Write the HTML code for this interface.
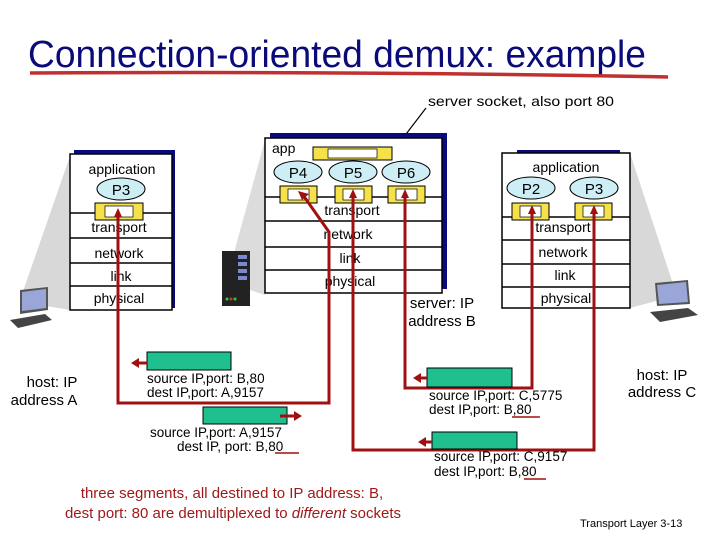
<!DOCTYPE html>
<html><head><meta charset="utf-8"><style>
html,body{margin:0;padding:0;background:#fff;}
svg{display:block;}
text{font-family:"Liberation Sans Narrow","Liberation Sans",sans-serif;}
</style></head><body>
<svg width="720" height="540" viewBox="0 0 720 540" xmlns="http://www.w3.org/2000/svg">
<!-- title -->
<text x="28" y="67" font-size="38" fill="#0a0a78" style="font-family:'Liberation Sans',sans-serif" textLength="618" lengthAdjust="spacingAndGlyphs">Connection-oriented demux: example</text>
<path d="M30 73 Q350 71 668 77" stroke="#c03030" stroke-width="3.5" fill="none"/>
<text x="428" y="106" font-size="14" fill="#000" textLength="186" lengthAdjust="spacingAndGlyphs">server socket, also port 80</text>
<line x1="426" y1="108" x2="390" y2="155" stroke="#000" stroke-width="1.2"/>

<!-- shading -->
<polygon points="70,156 70,310 40,305 20,300" fill="#d8d8d8"/>
<polygon points="265,140 265,295 250,290 232,260" fill="#dcdcdc"/>
<polygon points="630,153 630,308 660,300 675,290" fill="#d8d8d8"/>

<!-- Host A stack -->
<rect x="74" y="150" width="101" height="158" fill="#0a0a80"/>
<rect x="70" y="154" width="102" height="156" fill="#fff" stroke="#000" stroke-width="1.5"/>
<line x1="70" y1="213" x2="172" y2="213" stroke="#000" stroke-width="1.5"/>
<line x1="70" y1="238" x2="172" y2="238" stroke="#000" stroke-width="1.5"/>
<line x1="70" y1="263" x2="172" y2="263" stroke="#000" stroke-width="1.5"/>
<line x1="70" y1="286" x2="172" y2="286" stroke="#000" stroke-width="1.5"/>
<text x="122" y="174" font-size="14" text-anchor="middle">application</text>
<ellipse cx="121" cy="189" rx="24" ry="11" fill="#cdeef5" stroke="#000"/>
<text x="121" y="195" font-size="15" text-anchor="middle">P3</text>
<text x="119" y="232" font-size="14" text-anchor="middle">transport</text>
<text x="119" y="258" font-size="14" text-anchor="middle">network</text>
<text x="121" y="281" font-size="14" text-anchor="middle">link</text>
<text x="119" y="303" font-size="14" text-anchor="middle">physical</text>

<!-- Server stack -->
<rect x="270" y="133" width="177" height="156" fill="#0a0a80"/>
<rect x="265" y="138" width="177" height="155" fill="#fff" stroke="#000" stroke-width="1.5"/>
<line x1="265" y1="197" x2="442" y2="197" stroke="#000" stroke-width="1.5"/>
<line x1="265" y1="221" x2="442" y2="221" stroke="#000" stroke-width="1.5"/>
<line x1="265" y1="247" x2="442" y2="247" stroke="#000" stroke-width="1.5"/>
<line x1="265" y1="270" x2="442" y2="270" stroke="#000" stroke-width="1.5"/>
<text x="272" y="153" font-size="14">app</text>
<ellipse cx="298" cy="172" rx="24" ry="11" fill="#cdeef5" stroke="#000"/>
<text x="298" y="178" font-size="15" text-anchor="middle">P4</text>
<ellipse cx="353" cy="172" rx="24" ry="11" fill="#cdeef5" stroke="#000"/>
<text x="353" y="178" font-size="15" text-anchor="middle">P5</text>
<ellipse cx="406" cy="172" rx="24" ry="11" fill="#cdeef5" stroke="#000"/>
<text x="406" y="178" font-size="15" text-anchor="middle">P6</text>
<text x="352" y="215" font-size="14" text-anchor="middle">transport</text>
<text x="348" y="239" font-size="14" text-anchor="middle">network</text>
<text x="350" y="263" font-size="14" text-anchor="middle">link</text>
<text x="350" y="286" font-size="14" text-anchor="middle">physical</text>

<!-- server icon -->
<rect x="222" y="251" width="28" height="55" fill="#222"/>
<rect x="238" y="255" width="9" height="4" fill="#7a8ad0"/>
<rect x="238" y="262" width="9" height="4" fill="#7a8ad0"/>
<rect x="238" y="269" width="9" height="4" fill="#7a8ad0"/>
<rect x="238" y="276" width="9" height="4" fill="#7a8ad0"/>
<circle cx="227" cy="299" r="1.5" fill="#3c3"/><circle cx="231" cy="299" r="1.5" fill="#c33"/><circle cx="235" cy="299" r="1.5" fill="#3c3"/>

<!-- Host C stack -->
<rect x="517" y="150" width="103" height="5" fill="#0a0a80"/>
<rect x="502" y="153" width="128" height="155" fill="#fff" stroke="#000" stroke-width="1.5"/>
<line x1="502" y1="217" x2="630" y2="217" stroke="#000" stroke-width="1.5"/>
<line x1="502" y1="240" x2="630" y2="240" stroke="#000" stroke-width="1.5"/>
<line x1="502" y1="264" x2="630" y2="264" stroke="#000" stroke-width="1.5"/>
<line x1="502" y1="287" x2="630" y2="287" stroke="#000" stroke-width="1.5"/>
<text x="566" y="172" font-size="14" text-anchor="middle">application</text>
<ellipse cx="531" cy="188" rx="24" ry="11" fill="#cdeef5" stroke="#000"/>
<text x="531" y="194" font-size="15" text-anchor="middle">P2</text>
<ellipse cx="594" cy="188" rx="24" ry="11" fill="#cdeef5" stroke="#000"/>
<text x="594" y="194" font-size="15" text-anchor="middle">P3</text>
<text x="563" y="232" font-size="14" text-anchor="middle">transport</text>
<text x="563" y="257" font-size="14" text-anchor="middle">network</text>
<text x="565" y="280" font-size="14" text-anchor="middle">link</text>
<text x="566" y="303" font-size="14" text-anchor="middle">physical</text>

<!-- sockets -->
<g fill="#f5e14a" stroke="#000" stroke-width="1">
<rect x="95" y="203" width="48" height="17"/>
<rect x="313" y="147" width="79" height="13"/>
<rect x="280" y="186" width="37" height="17"/>
<rect x="335" y="186" width="37" height="17"/>
<rect x="388" y="186" width="37" height="17"/>
<rect x="512" y="203" width="37" height="17"/>
<rect x="575" y="203" width="37" height="17"/>
</g>
<g fill="#fff" stroke="#000" stroke-width="0.7">
<rect x="105" y="206" width="28" height="11"/>
<rect x="328" y="149" width="49" height="9"/>
<rect x="288" y="189" width="21" height="11"/>
<rect x="343" y="189" width="21" height="11"/>
<rect x="396" y="189" width="21" height="11"/>
<rect x="520" y="206" width="21" height="11"/>
<rect x="583" y="206" width="21" height="11"/>
</g>

<!-- red connectors -->
<g stroke="#a01010" stroke-width="3" fill="none">
<polyline points="118,214 118,403 329,403 329,232 303,195"/>
<polyline points="353,195 353,450 594,450 594,211"/>
<polyline points="405,195 405,388 532,388 532,211"/>
</g>
<g fill="#a01010">
<polygon points="298,191 309,194 302,200"/>
<polygon points="118,208 114,217 122,217"/>
<polygon points="353,189 349,198 357,198"/>
<polygon points="405,189 401,198 409,198"/>
<polygon points="532,205 528,214 536,214"/>
<polygon points="594,205 590,214 598,214"/>
</g>

<!-- laptops -->
<g>
<polygon points="20,290 48,287 48,310 20,314" fill="#555"/>
<polygon points="22,292 46,289 46,308 22,311" fill="#9aa6d8"/>
<polygon points="10,320 45,314 52,320 18,328" fill="#444"/>
<polygon points="655,283 688,280 690,304 657,306" fill="#555"/>
<polygon points="657,285 686,282 688,302 659,304" fill="#9aa6d8"/>
<polygon points="650,312 688,308 698,315 660,322" fill="#444"/>
</g>

<!-- segments -->
<g fill="#1fbf8f" stroke="#000" stroke-width="1">
<rect x="147" y="352" width="84" height="18"/>
<rect x="203" y="407" width="84" height="17"/>
<rect x="427" y="368" width="85" height="19"/>
<rect x="432" y="432" width="85" height="17"/>
</g>
<g stroke="#a01010" stroke-width="3">
<line x1="147" y1="363" x2="137" y2="363"/>
<line x1="280" y1="416" x2="294" y2="416"/>
<line x1="427" y1="378" x2="419" y2="378"/>
<line x1="432" y1="442" x2="424" y2="442"/>
</g>
<g fill="#a01010">
<polygon points="131,363 139,358 139,368"/>
<polygon points="302,416 294,411 294,421"/>
<polygon points="413,378 421,373 421,383"/>
<polygon points="418,442 426,437 426,447"/>
</g>
<g font-size="13.5" fill="#000">
<text x="147" y="383">source IP,port: B,80</text>
<text x="147" y="397">dest IP,port: A,9157</text>
<text x="150" y="437">source IP,port: A,9157</text>
<text x="177" y="451">dest IP, port: B,80</text>
<text x="429" y="400">source IP,port: C,5775</text>
<text x="429" y="414">dest IP,port: B,80</text>
<text x="434" y="461">source IP,port: C,9157</text>
<text x="434" y="476">dest IP,port: B,80</text>
</g>
<g stroke="#a01010" stroke-width="1.5">
<line x1="275" y1="453" x2="299" y2="453"/>
<line x1="512" y1="417" x2="540" y2="417"/>
<line x1="524" y1="479" x2="546" y2="479"/>
</g>

<!-- host labels -->
<g font-size="15" fill="#000" style="font-family:'Liberation Sans',sans-serif" text-anchor="middle">
<text x="52" y="387">host: IP</text>
<text x="44" y="405">address A</text>
<text x="662" y="380">host: IP</text>
<text x="662" y="397">address C</text>
<text x="442" y="308">server: IP</text>
<text x="442" y="326">address B</text>
</g>

<text x="232" y="498" font-size="15" fill="#a01818" text-anchor="middle">three segments, all destined to IP address: B,</text>
<text x="233" y="518" font-size="15" fill="#a01818" text-anchor="middle">dest port: 80 are demultiplexed to <tspan font-style="italic">different</tspan> sockets</text>
<text x="580" y="527" font-size="11" fill="#000" style="font-family:'Liberation Sans',sans-serif">Transport Layer 3-13</text>
</svg>
</body></html>
